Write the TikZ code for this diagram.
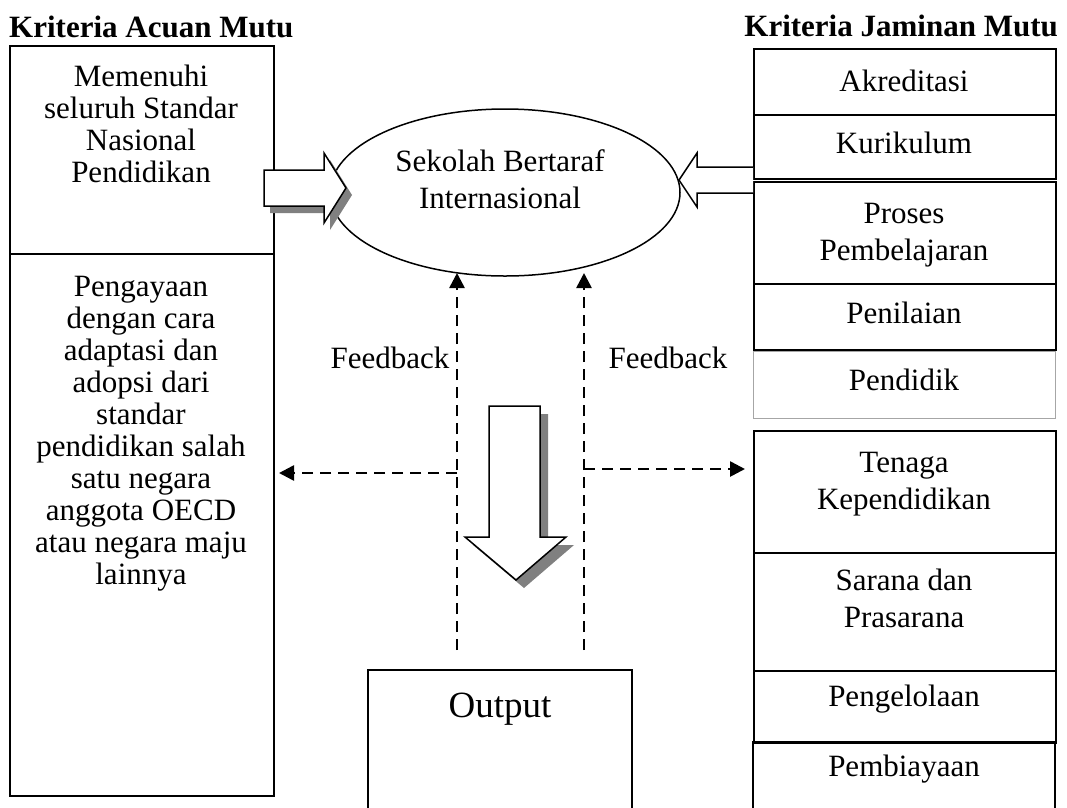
\documentclass[tikz,border=0pt]{standalone}
\usepackage{fontspec}
\setmainfont{Liberation Serif}
\usetikzlibrary{shapes.geometric,arrows.meta}
\definecolor{shadowgray}{HTML}{808080}
\begin{document}
\begin{tikzpicture}[x=1pt,y=-1pt,
  box/.style={draw,line width=2pt,rectangle,inner sep=0pt,anchor=north west},
  txt/.style={inner sep=0pt,align=center,font=\fontsize{31}{37}\selectfont},
  ltxt/.style={inner sep=0pt,align=center,font=\fontsize{31}{32}\selectfont},
  ttl/.style={inner sep=0pt,font=\fontsize{31}{37}\selectfont\bfseries},
  dasharrow/.style={line width=2.6pt,dash pattern=on 11pt off 7pt,-{Triangle[length=15pt,width=15pt]}},
  blockarrow/.style={draw,line width=1.5pt,fill=white,line join=miter},
  shadowfill/.style={fill=shadowgray,draw=none}]
\useasboundingbox (0,0) rectangle (1067,807);

% titles
\node[ttl,anchor=base west] (t1) at (9,37) {Kriteria Acuan Mutu};
\node[ttl,anchor=base east] (t2) at (1058,36) {Kriteria Jaminan Mutu};

% left column
\node[box,minimum width=264pt,minimum height=208pt] (lbA) at (9,45) {};
\node[box,minimum width=264pt,minimum height=542pt] (lbB) at (9,253) {};
\node[ltxt,anchor=north] (tM) at (141,65) {Memenuhi\\seluruh Standar\\Nasional\\Pendidikan};
\node[ltxt,anchor=north] (tP) at (141,276) {Pengayaan\\dengan cara\\adaptasi dan\\adopsi dari\\standar\\pendidikan salah\\satu negara\\anggota OECD\\atau negara maju\\lainnya};

% right column
\node[box,minimum width=302pt,minimum height=66pt] (r1) at (753,48) {};
\node[box,minimum width=302pt,minimum height=64pt] (r2) at (753,114) {};
\node[box,minimum width=302pt,minimum height=102pt] (r3) at (753,181) {};
\node[box,minimum width=302pt,minimum height=66pt] (r4) at (753,283) {};
\node[box,draw=gray!70,line width=1.2pt,minimum width=302pt,minimum height=67pt] (r5) at (753,351) {};
\node[box,minimum width=302pt,minimum height=122pt] (r6) at (753,430) {};
\node[box,minimum width=302pt,minimum height=118pt] (r7) at (753,552) {};
\node[box,minimum width=302pt,minimum height=72pt] (r8) at (753,670) {};
\coordinate (r9a) at (753,808);
\coordinate (r9b) at (753,742);
\coordinate (r9c) at (1055,742);
\coordinate (r9d) at (1055,808);
\draw[line width=2pt] (r9a) -- (r9b) -- (r9c) -- (r9d);

\node[txt,anchor=base] (tAk) at (904,91) {Akreditasi};
\node[txt,anchor=base] (tKu) at (904,153) {Kurikulum};
\node[txt,anchor=north] (tPr) at (904,203) {Proses\\Pembelajaran};
\node[txt,anchor=base] (tPe) at (904,323) {Penilaian};
\node[txt,anchor=base] (tPd) at (904,390) {Pendidik};
\node[txt,anchor=north] (tTe) at (904,452) {Tenaga\\Kependidikan};
\node[txt,anchor=north] (tSa) at (904,569) {Sarana dan\\Prasarana};
\node[txt,anchor=base] (tPg) at (904,706) {Pengelolaan};
\node[txt,anchor=base] (tPb) at (904,776) {Pembiayaan};

% ellipse
\node[draw,line width=1.5pt,ellipse,inner sep=0pt,minimum width=350pt,minimum height=167pt] (el) at (505,192.5) {};
\node[txt,anchor=north] (tEl) at (500,149) {Sekolah Bertaraf\\Internasional};

% left block arrow with shadow
\fill[shadowfill] (270,177) -- (330,177) -- (330,160) -- (352,195) -- (330,230) -- (330,213) -- (270,213) -- cycle;
\draw[blockarrow] (264,170) -- (324,170) -- (324,153) -- (346,188) -- (324,223) -- (324,206) -- (264,206) -- cycle;

% right block arrow
\draw[blockarrow] (753,167) -- (697,167) -- (697,153) -- (679,180) -- (697,207) -- (697,193) -- (753,193);

% down block arrow with shadow
\fill[shadowfill] (497,414) -- (548,414) -- (548,545) -- (574,545) -- (524,588) -- (473,545) -- (497,545) -- cycle;
\draw[blockarrow] (489,406) -- (540,406) -- (540,537) -- (566,537) -- (516,580) -- (465,537) -- (489,537) -- cycle;

% feedback dashed lines
\coordinate (vL0) at (457,650);
\coordinate (vR0) at (584,650);
\coordinate (vL1) at (457,273);
\coordinate (vR1) at (584,273);
\coordinate (hL0) at (457,473);
\coordinate (hR0) at (584,469);
\coordinate (hL1) at (279,473);
\coordinate (hR1) at (745,469);
\draw[dasharrow] (vL0) -- (vL1);
\draw[dasharrow] (vR0) -- (vR1);
\draw[dasharrow] (hL0) -- (hL1);
\draw[dasharrow] (hR0) -- (hR1);

\node[txt,anchor=base] (fbL) at (390,368) {Feedback};
\node[txt,anchor=base] (fbR) at (668,368) {Feedback};

% output box
\coordinate (oA) at (368,808);
\coordinate (oB) at (368,670);
\coordinate (oC) at (632,670);
\coordinate (oD) at (632,808);
\draw[line width=2pt] (oA) -- (oB) -- (oC) -- (oD);
\node[inner sep=0pt,font=\fontsize{37}{40}\selectfont,anchor=base] (tOut) at (500,717) {Output};
\end{tikzpicture}
\end{document}
